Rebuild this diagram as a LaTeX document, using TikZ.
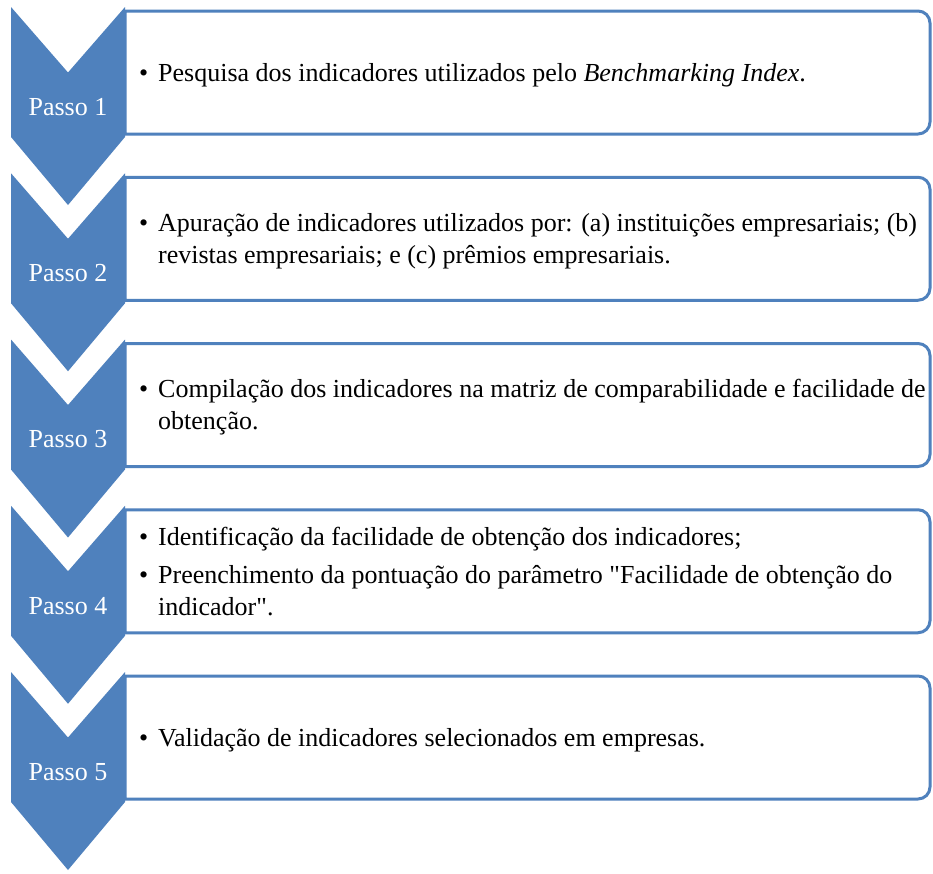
\documentclass[tikz,border=0pt]{standalone}
\usepackage{fontspec}
\setmainfont{Liberation Serif}[Ligatures=TeXOff]
\definecolor{chevblue}{HTML}{4F81BD}
\definecolor{boxblue}{HTML}{4F81BD}
\tikzset{
  chevron/.style={fill=chevblue, draw=none},
  stepbox/.style={draw=boxblue, line width=3pt, fill=white},
  passo/.style={text=white, font=\fontsize{26}{32}\selectfont, inner sep=0pt},
  bodytext/.style={anchor=west, inner sep=0pt, font=\fontsize{26}{32}\selectfont, text=black}
}
\newcommand{\bul}{\makebox[19pt][l]{•}}
\begin{document}
\begin{tikzpicture}[x=1pt,y=1pt]
\useasboundingbox (0,0) rectangle (933,-873);
\fill[white] (0,0) rectangle (933,-873);
\foreach \i in {0,...,4}{
  \pgfmathsetmacro\T{7+166.25*\i}
  \draw[stepbox] (125,-\T-4) -- (918,-\T-4)
     arc[start angle=90,end angle=0,radius=12pt] -- (930,-\T-115)
     arc[start angle=0,end angle=-90,radius=12pt] -- (125,-\T-127) -- cycle;
  \fill[chevron] (11,-\T) -- (68,-\T-65.5) -- (125,-\T) -- (125,-\T-130)
     -- (68,-\T-198) -- (11,-\T-130) -- cycle;
}
\node[passo] (p1) at (68,-107) {Passo 1};
\node[passo] (p2) at (68,-273.25) {Passo 2};
\node[passo] (p3) at (68,-439.5) {Passo 3};
\node[passo] (p4) at (68,-605.75) {Passo 4};
\node[passo] (p5) at (68,-772) {Passo 5};
\node[bodytext] (t1) at (139,-75) {\begin{tabular}{@{}l@{}l@{}}
\bul & Pesquisa dos indicadores utilizados pelo \textit{Benchmarking Index}.
\end{tabular}};
\node[bodytext] (t2) at (139,-241.25) {\begin{tabular}{@{}l@{}l@{}}
\bul & Apuração de indicadores utilizados por: (a) instituições empresariais; (b)\\
 & revistas empresariais; e (c) prêmios empresariais.
\end{tabular}};
\node[bodytext] (t3) at (139,-407.5) {\begin{tabular}{@{}l@{}l@{}}
\bul & Compilação dos indicadores na matriz de comparabilidade e facilidade de\\
 & obtenção.
\end{tabular}};
\node[bodytext] (t4) at (139,-574.5) {\begin{tabular}{@{}l@{}l@{}}
\bul & Identificação da facilidade de obtenção dos indicadores;\\[6pt]
\bul & Preenchimento da pontuação do parâmetro "Facilidade de obtenção do\\
 & indicador".
\end{tabular}};
\node[bodytext] (t5) at (139,-740) {\begin{tabular}{@{}l@{}l@{}}
\bul & Validação de indicadores selecionados em empresas.
\end{tabular}};
\end{tikzpicture}
\end{document}
